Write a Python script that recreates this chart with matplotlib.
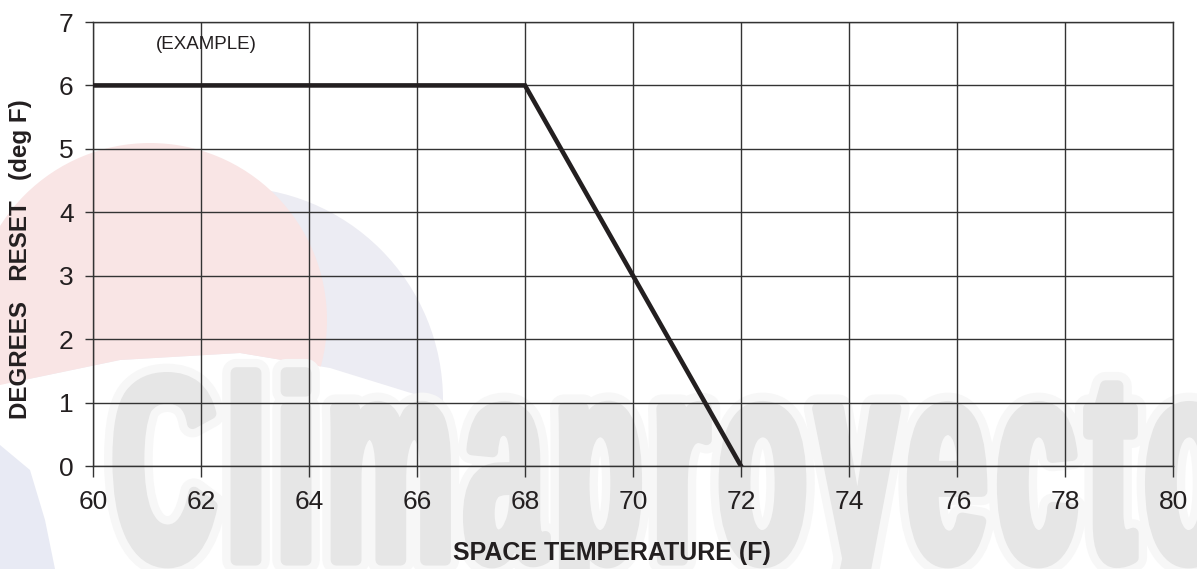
import numpy as np
import matplotlib
matplotlib.use("Agg")
import matplotlib.pyplot as plt
from matplotlib.textpath import TextPath, text_to_path
from matplotlib.path import Path
from matplotlib.patches import PathPatch, Circle, Polygon
from matplotlib.font_manager import FontProperties
from matplotlib.transforms import IdentityTransform

# data
space_temp = [60, 68, 72]
degrees_reset = [6, 6, 0]
x_ticks = [60, 62, 64, 66, 68, 70, 72, 74, 76, 78, 80]
y_ticks = [0, 1, 2, 3, 4, 5, 6, 7]

W, H = 1197, 569
plt.rcParams['font.family'] = ['Liberation Sans', 'DejaVu Sans']


def px(x, y):
    # pixel coords measured from the top-left -> display coords
    return (x, H - y)


def word_path(word, size, sx, track, x0, base):
    prop = FontProperties(family='Liberation Sans', weight='bold', size=size)
    xh, cap = 0.519 * size, 0.729 * size
    xh_new, cap_new = 150.0, 188.0
    verts, codes = [], []
    x = x0
    for ch in word:
        tp = TextPath((0, 0), ch, size=size, prop=prop)
        v = tp.vertices.copy()
        low = v[:, 1] <= xh
        v[low, 1] = v[low, 1] * (xh_new / xh)
        v[~low, 1] = xh_new + (v[~low, 1] - xh) * ((cap_new - xh_new) / (cap - xh))
        v[:, 0] = v[:, 0] * sx + x
        v[:, 1] = v[:, 1] + base
        verts.append(v)
        codes.append(tp.codes)
        adv = text_to_path.get_text_width_height_descent(ch, prop, ismath=False)[0]
        x += adv * sx + track
    return Path(np.vstack(verts), np.concatenate(codes))


def add_watermark(fig):
    idt = IdentityTransform()

    # faint logo globe: lavender crescent behind a pink disc, cut at the bottom
    clip = Polygon([px(0, 0), px(520, 0), px(520, 410), px(440, 402),
                    px(330, 368), px(240, 353), px(120, 360), px(0, 385)],
                   closed=True, transform=idt)
    lav = Circle(px(230, 400), 213, facecolor='#ececf3', edgecolor='none',
                 transform=idt, zorder=-4)
    pink = Circle(px(150, 320), 177, facecolor='#f9e5e5', edgecolor='none',
                  transform=idt, zorder=-4)
    for p in (lav, pink):
        fig.add_artist(p)
        p.set_clip_path(clip)
    blue = Polygon([px(0, 445), px(30, 470), px(45, 520), px(55, 569),
                    px(0, 569)], closed=True, facecolor='#e8eaf4',
                   edgecolor='none', transform=idt, zorder=-4)
    fig.add_artist(blue)

    # condensed grey word with a light halo
    path = word_path("Climaproyecto", 262, 0.55, 10, 112, H - 560)
    halo = PathPatch(path, facecolor='#f7f7f7', edgecolor='#f7f7f7',
                     linewidth=20, joinstyle='round', transform=idt, zorder=-3)
    body = PathPatch(path, facecolor='#e6e6e6', edgecolor='#e6e6e6',
                     linewidth=8, joinstyle='round', transform=idt, zorder=-2)
    fig.add_artist(halo)
    fig.add_artist(body)


def main():
    fig = plt.figure(figsize=(W / 100, H / 100), dpi=100)
    add_watermark(fig)

    ax = fig.add_axes([93 / W, 103 / H, 1080 / W, 444 / H])
    ax.patch.set_alpha(0)

    ax.plot(space_temp, degrees_reset, color='#231f20', linewidth=3.3,
            solid_joinstyle='miter', zorder=3)

    ax.set_xlim(60, 80)
    ax.set_ylim(0, 7)
    ax.set_xticks(x_ticks)
    ax.set_yticks(y_ticks)
    ax.grid(True, color='#333333', linewidth=1.0)
    for s in ax.spines.values():
        s.set_color('#333333')
        s.set_linewidth(1.0)
    ax.tick_params(axis='x', length=8, width=1.0, color='#333333',
                   labelsize=19, pad=9, labelcolor='#231f20')
    ax.tick_params(axis='y', length=6, width=1.0, color='#333333',
                   labelsize=19, pad=8, labelcolor='#231f20')

    ax.text(62.1, 6.64, '(EXAMPLE)', fontsize=13.5, ha='center', va='center',
            color='#231f20')

    fig.text(612 / W, 1 - 553 / H, 'SPACE TEMPERATURE (F)', fontsize=18,
             fontweight='bold', ha='center', va='center', color='#231f20')
    fig.text(21 / W, 1 - 259 / H, 'DEGREES   RESET   (deg F)', fontsize=17.4,
             fontweight='bold', ha='center', va='center', rotation=90,
             color='#231f20')

    fig.savefig('out.png', dpi=100)


if __name__ == '__main__':
    main()
